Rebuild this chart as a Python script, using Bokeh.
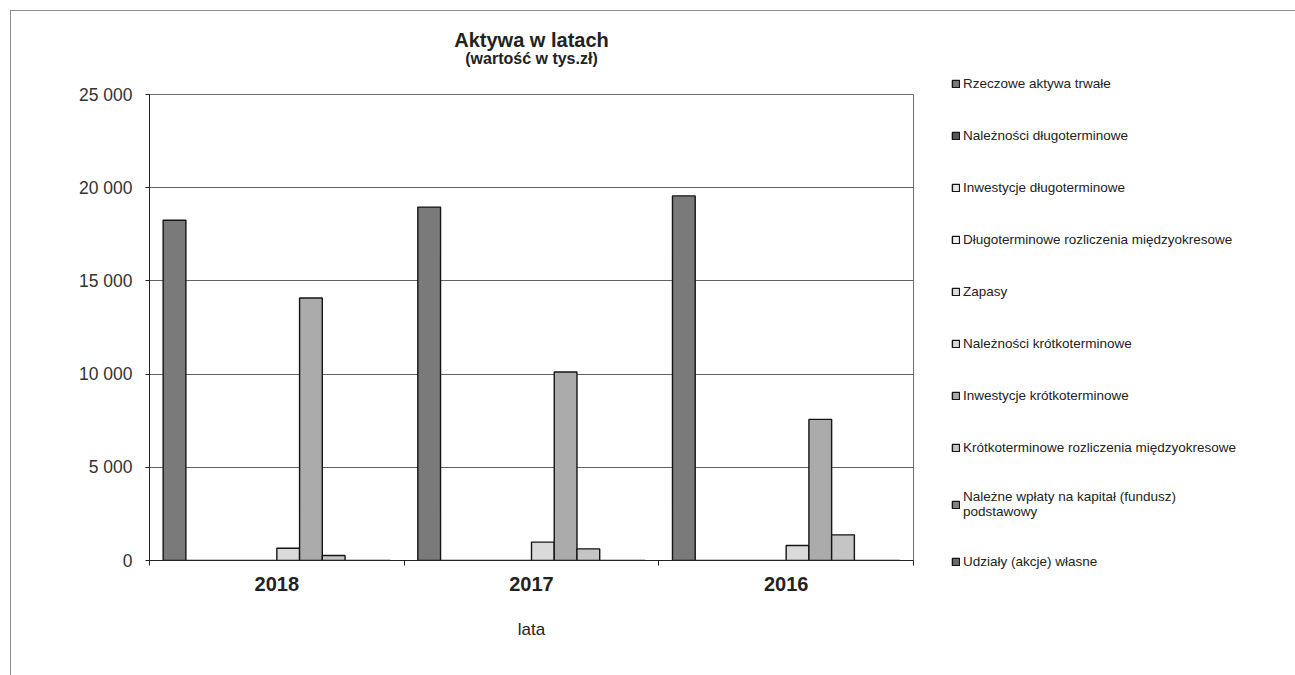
from bokeh.plotting import figure
from bokeh.models import (ColumnDataSource, Range1d, FixedTicker, Legend,
                          LegendItem, Title)
from bokeh.transform import dodge
from bokeh.embed import file_html
from bokeh.resources import INLINE

# ---- data (thousand PLN) ----
years = ["2018", "2017", "2016"]

series_names = [
    "Rzeczowe aktywa trwałe",
    "Należności długoterminowe",
    "Inwestycje długoterminowe",
    "Długoterminowe rozliczenia międzyokresowe",
    "Zapasy",
    "Należności krótkoterminowe",
    "Inwestycje krótkoterminowe",
    "Krótkoterminowe rozliczenia międzyokresowe",
    "Należne wpłaty na kapitał (fundusz)\npodstawowy",
    "Udziały (akcje) własne",
]

rzeczowe_aktywa_trwale = [18250, 18960, 19560]
naleznosci_dlugoterminowe = [0, 0, 0]
inwestycje_dlugoterminowe = [0, 0, 0]
dlugoterminowe_rozliczenia = [0, 0, 0]
zapasy = [0, 0, 0]
naleznosci_krotkoterminowe = [660, 985, 805]
inwestycje_krotkoterminowe = [14080, 10110, 7570]
krotkoterminowe_rozliczenia = [270, 625, 1375]
nalezne_wplaty = [0, 0, 0]
udzialy_wlasne = [0, 0, 0]

y_ticks = [0, 5000, 10000, 15000, 20000, 25000]

series_values = [
    rzeczowe_aktywa_trwale, naleznosci_dlugoterminowe, inwestycje_dlugoterminowe,
    dlugoterminowe_rozliczenia, zapasy, naleznosci_krotkoterminowe,
    inwestycje_krotkoterminowe, krotkoterminowe_rozliczenia, nalezne_wplaty,
    udzialy_wlasne,
]

series_colors = ["#7a7a7a", "#595959", "#e6e6e6", "#efefef", "#dedede",
                 "#dadada", "#ababab", "#c5c5c5", "#828282", "#6a6a6a"]

FONT = "Liberation Sans"

# ---- figure ----
n = len(years)
centers = [i + 0.5 for i in range(n)]
bounds = [i for i in range(n + 1)]

p = figure(width=1282, height=665, frame_width=764, frame_height=466,
           output_backend="svg", toolbar_location=None,
           x_range=Range1d(0, n), y_range=Range1d(y_ticks[0], y_ticks[-1]),
           title=None, min_border_left=138, min_border_right=380,
           min_border_top=83, min_border_bottom=116)
p.margin = (10, 0, 0, 10)
p.styles = {"border-left": "1px solid #8c8c8c", "border-top": "1px solid #8c8c8c",
            "border-right": "1px solid #8c8c8c"}
p.background_fill_color = "white"
p.border_fill_color = "white"
p.outline_line_color = "#707070"
p.outline_line_width = 1

data = {"x": centers}
for k, vals in enumerate(series_values):
    data[f"s{k}"] = vals
src = ColumnDataSource(data)

GAP = 1.2
slot = 1.0 / (len(series_values) + GAP)
renderers = []
for k, color in enumerate(series_colors):
    offset = (GAP / 2 + k + 0.5) * slot - 0.5
    r = p.vbar(x=dodge("x", offset, range=p.x_range), top=f"s{k}", width=slot,
               source=src, fill_color=color, line_color="#151515", line_width=1.4)
    renderers.append(r)

# ---- axes ----
p.xaxis.ticker = FixedTicker(ticks=centers, minor_ticks=bounds)
p.xaxis.major_label_overrides = {c: y for c, y in zip(centers, years)}
p.xaxis.major_tick_line_color = None
p.xaxis.major_tick_out = 0
p.xaxis.major_tick_in = 0
p.xaxis.minor_tick_out = 5
p.xaxis.minor_tick_in = 0
p.xaxis.minor_tick_line_color = "#222222"
p.xaxis.axis_line_color = "#222222"
p.xaxis.major_label_standoff = 11
p.xaxis.major_label_text_font = FONT
p.xaxis.major_label_text_font_size = "20px"
p.xaxis.major_label_text_font_style = "bold"
p.xaxis.major_label_text_color = "#222222"
p.xaxis.axis_label = "lata"
p.xaxis.axis_label_text_font = FONT
p.xaxis.axis_label_text_font_size = "17px"
p.xaxis.axis_label_text_font_style = "normal"
p.xaxis.axis_label_text_color = "#222222"
p.xaxis.axis_label_standoff = 26

p.yaxis.ticker = FixedTicker(ticks=y_ticks)
p.yaxis.major_label_overrides = {t: f"{t:,}".replace(",", " ") for t in y_ticks}
p.yaxis.minor_tick_line_color = None
p.yaxis.major_tick_out = 4
p.yaxis.major_tick_in = 0
p.yaxis.major_tick_line_color = "#222222"
p.yaxis.axis_line_color = "#222222"
p.yaxis.major_label_standoff = 13
p.yaxis.major_label_text_font = FONT
p.yaxis.major_label_text_font_size = "17.5px"
p.yaxis.major_label_text_color = "#333333"

p.xgrid.grid_line_color = None
p.ygrid.grid_line_color = "#626262"
p.ygrid.grid_line_width = 1

# ---- titles ----
p.add_layout(Title(text="(wartość w tys.zł)", align="center", text_font=FONT,
                   text_font_size="16px", text_font_style="bold",
                   text_color="#222222", standoff=56), "above")
p.add_layout(Title(text="Aktywa w latach", align="center", text_font=FONT,
                   text_font_size="20px", text_font_style="bold",
                   text_color="#222222", standoff=-62), "above")

# ---- legend ----
items = [LegendItem(label=name, renderers=[r]) for name, r in zip(series_names, renderers)]
legend = Legend(items=items, location=(38, -11), orientation="vertical", ncols=1,
                glyph_width=9, glyph_height=9, label_standoff=3,
                label_height=20, spacing=32, padding=0, margin=0,
                border_line_color=None, background_fill_alpha=0,
                label_text_font=FONT, label_text_font_size="13.5px",
                label_text_color="#222222")
p.add_layout(legend, "right")

open("out.html", "w").write(file_html(p, INLINE))
